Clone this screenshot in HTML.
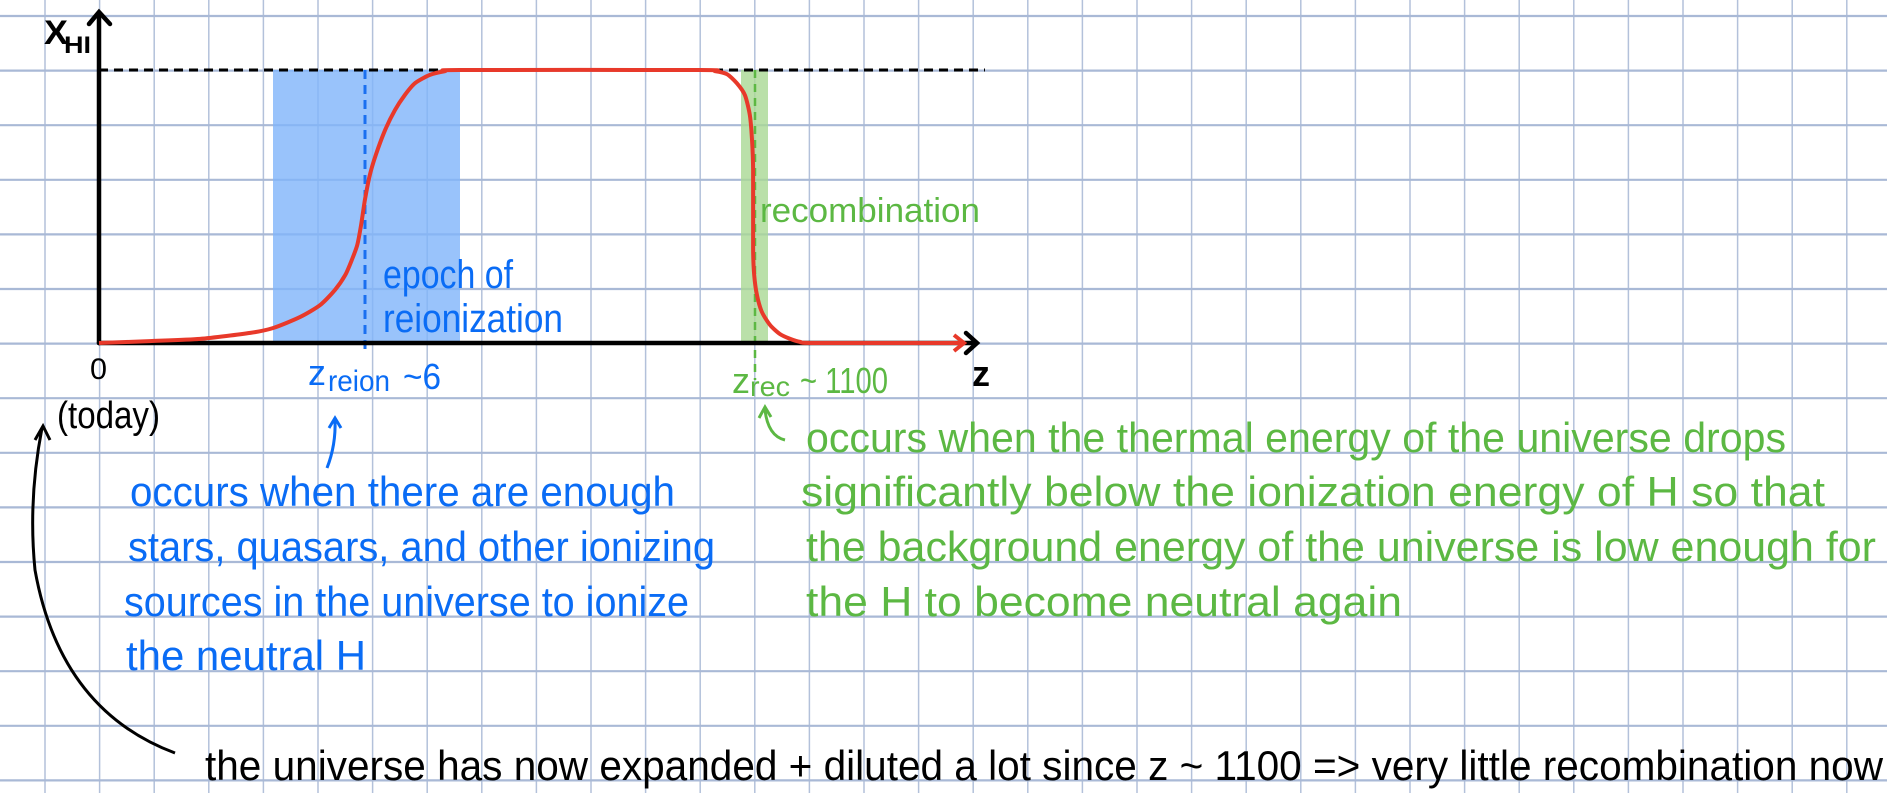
<!DOCTYPE html>
<html><head><meta charset="utf-8"><style>
html,body{margin:0;padding:0;background:#fff;}
svg{display:block;}
text{font-family:"Liberation Sans Narrow","Liberation Sans",sans-serif;}
</style></head><body>
<svg id="chart" width="1887" height="793" viewBox="0 0 1887 793" xmlns="http://www.w3.org/2000/svg">
<g id="grid"></g>
<rect x="273" y="70" width="187" height="273" fill="#7fb4fa" opacity="0.8"/>
<rect x="741" y="70" width="27" height="273" fill="#a9d894" opacity="0.8"/>
<line x1="99" y1="70" x2="985" y2="70" stroke="#000" stroke-width="3" stroke-dasharray="9,6"/>
<line x1="365" y1="70" x2="365" y2="355" stroke="#1a6ff0" stroke-width="3" stroke-dasharray="9,6"/>
<line x1="755" y1="70" x2="755" y2="380" stroke="#5cb843" stroke-width="2.5" stroke-dasharray="8,6"/>
<g stroke="#000" stroke-width="4.5" fill="none" stroke-linecap="round">
<line x1="99" y1="13" x2="99" y2="343"/><polyline points="89,24 99,12 110,24"/></g>
<g stroke="#000" stroke-width="4.5" fill="none" stroke-linecap="round">
<line x1="99" y1="343" x2="975" y2="343"/><polyline points="966,333 977,343 966,353"/></g>
<path id="curve" fill="none" stroke="#e8392a" stroke-width="4" stroke-linejoin="round"/>
<polyline points="954,335 964,343 954,351" fill="none" stroke="#e8392a" stroke-width="4"/>
<text x="44" y="44" font-size="34" font-weight="bold" textLength="24" lengthAdjust="spacingAndGlyphs">X</text>
<text x="64" y="53" font-size="24" font-weight="bold" textLength="27" lengthAdjust="spacingAndGlyphs">HI</text>
<text x="972" y="386" font-size="36" font-weight="bold">z</text>
<text x="90" y="379" font-size="30" textLength="17" lengthAdjust="spacingAndGlyphs">0</text>
<text x="57" y="428" font-size="38" textLength="103" lengthAdjust="spacingAndGlyphs">(today)</text>
<text fill="#0a6cf5" font-size="40"><tspan x="383" y="288" textLength="130" lengthAdjust="spacingAndGlyphs">epoch of</tspan><tspan x="383" y="332" textLength="180" lengthAdjust="spacingAndGlyphs">reionization</tspan></text>
<text fill="#0a6cf5" font-size="36"><tspan x="308" y="385">z</tspan><tspan x="328" y="391" font-size="30" textLength="62" lengthAdjust="spacingAndGlyphs">reion</tspan><tspan x="403" y="389" textLength="38" lengthAdjust="spacingAndGlyphs">~6</tspan></text>
<text x="760" y="222" fill="#5cb843" font-size="34" textLength="220" lengthAdjust="spacingAndGlyphs">recombination</text>
<text fill="#5cb843" font-size="36"><tspan x="732" y="393">z</tspan><tspan x="750" y="396" font-size="28" textLength="40" lengthAdjust="spacingAndGlyphs">rec</tspan><tspan x="800" y="393" textLength="88" lengthAdjust="spacingAndGlyphs">~ 1100</tspan></text>
<path d="M327,468 Q336,445 335,420 M329,428 L335,418 L341,428" fill="none" stroke="#0a6cf5" stroke-width="3"/>
<path d="M785,440 Q768,436 765,410 M759,418 L765,407 L771,417" fill="none" stroke="#5cb843" stroke-width="3"/>
<path d="M175,753 Q60,710 35,570 Q28,500 42,428 M35,440 L43,426 L50,440" fill="none" stroke="#000" stroke-width="3"/>
<g fill="#0a6cf5" font-size="42">
<text x="130" y="506" textLength="545" lengthAdjust="spacingAndGlyphs">occurs when there are enough</text>
<text x="128" y="561" textLength="587" lengthAdjust="spacingAndGlyphs">stars, quasars, and other ionizing</text>
<text x="124" y="616" textLength="565" lengthAdjust="spacingAndGlyphs">sources in the universe to ionize</text>
<text x="126" y="670" textLength="240" lengthAdjust="spacingAndGlyphs">the neutral H</text></g>
<g fill="#5cb843" font-size="42">
<text x="806" y="452" textLength="980" lengthAdjust="spacingAndGlyphs">occurs when the thermal energy of the universe drops</text>
<text x="801" y="506" textLength="1024" lengthAdjust="spacingAndGlyphs">significantly below the ionization energy of H so that</text>
<text x="806" y="561" textLength="1070" lengthAdjust="spacingAndGlyphs">the background energy of the universe is low enough for</text>
<text x="806" y="616" textLength="596" lengthAdjust="spacingAndGlyphs">the H to become neutral again</text></g>
<text x="205" y="780" font-size="42" textLength="1678" lengthAdjust="spacingAndGlyphs">the universe has now expanded + diluted a lot since z ~ 1100 =&gt; very little recombination now</text>
</svg>
<script>
// curve data: position along z axis (grid units) and neutral fraction x_HI
const zUnits = [0, 0.93, 1.85, 2.77, 3.19, 3.68, 4.05, 4.32, 4.51, 4.63, 4.73, 4.80, 4.87, 4.96, 5.07, 5.24, 5.42, 5.60, 5.79, 6.06, 6.34, 6.61, 11.01, 11.28, 11.50, 11.68, 11.83, 11.92, 11.96, 11.98, 11.98, 12.00, 12.05, 12.14, 12.29, 12.47, 12.66, 12.84, 13.11, 15.81];
const xHI    = [0, 0.007, 0.015, 0.037, 0.055, 0.095, 0.139, 0.194, 0.249, 0.304, 0.359, 0.432, 0.524, 0.615, 0.689, 0.780, 0.853, 0.908, 0.952, 0.982, 0.996, 1, 1, 0.996, 0.985, 0.952, 0.908, 0.835, 0.744, 0.634, 0.341, 0.249, 0.176, 0.114, 0.066, 0.033, 0.015, 0.004, 0, 0];
const gridStep = 54.6;
const xScale = u => 99 + u * gridStep;
const yScale = v => 343 - v * 273;
const ns = "http://www.w3.org/2000/svg";
const grid = document.getElementById('grid');
for (let x = 45 - gridStep; x < 1887; x += gridStep) {
  const l = document.createElementNS(ns, 'line');
  
  
  l.setAttribute('x1', x); l.setAttribute('x2', x); l.setAttribute('y1', 0); l.setAttribute('y2', 793);
  l.setAttribute('stroke', '#b3c1da'); l.setAttribute('stroke-width', '1.5');
  grid.appendChild(l);
}
for (let y = 16; y < 793; y += gridStep) {
  const l = document.createElementNS(ns, 'line');
  
  
  l.setAttribute('x1', 0); l.setAttribute('x2', 1887); l.setAttribute('y1', y); l.setAttribute('y2', y);
  l.setAttribute('stroke', '#a9b9d6'); l.setAttribute('stroke-width', '2.2');
  grid.appendChild(l);
}
const pts = zUnits.map((u, i) => [xScale(u), yScale(xHI[i])]);
let d = `M${pts[0][0]},${pts[0][1]}`;
for (let i = 0; i < pts.length - 1; i++) {
  const p0 = pts[Math.max(i - 1, 0)], p1 = pts[i], p2 = pts[i + 1], p3 = pts[Math.min(i + 2, pts.length - 1)];
  const t = 0.12;
  const c1 = [p1[0] + (p2[0] - p0[0]) * t, p1[1] + (p2[1] - p0[1]) * t];
  const c2 = [p2[0] - (p3[0] - p1[0]) * t, p2[1] - (p3[1] - p1[1]) * t];
  d += ` C${c1[0]},${c1[1]} ${c2[0]},${c2[1]} ${p2[0]},${p2[1]}`;
}
document.getElementById('curve').setAttribute('d', d);
</script>
</body></html>
